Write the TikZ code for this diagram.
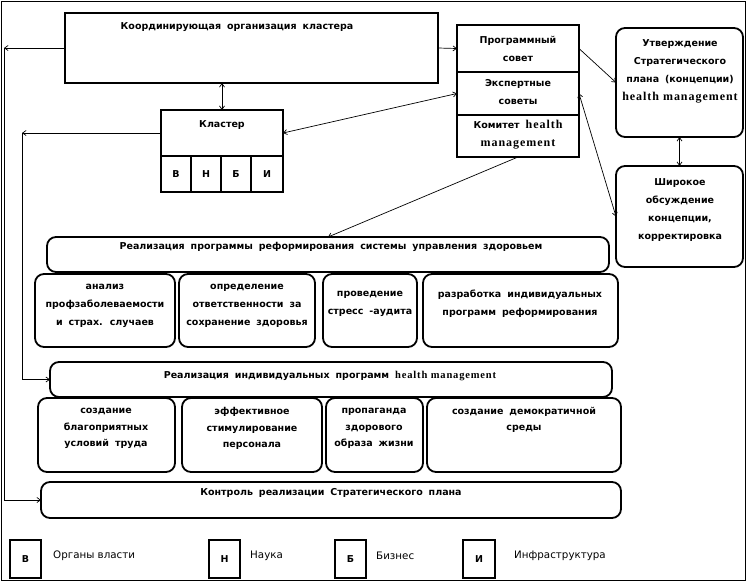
\documentclass[tikz,border=0pt]{standalone}
\usepackage{fontspec}
\setmainfont[WordSpace=1.8]{DejaVu Sans}
\newfontfamily\lgf{DejaVu Sans}
\newfontfamily\hm[LetterSpace=8]{Liberation Serif}
\newcommand\hmb[1]{{\hm\bfseries\fontsize{12}{18}\selectfont #1}}
\newcommand\hms[1]{{\hm\bfseries\fontsize{10.5}{18}\selectfont #1}}
\usetikzlibrary{arrows.meta}
\tikzset{
  sq/.style={draw, line width=1.3pt, inner sep=0pt, outer sep=0pt},
  rnd/.style={draw, line width=1.8pt, rounded corners=9pt, inner sep=0pt, outer sep=0pt},
  conn/.style={line width=0.7pt, -{Straight Barb[length=3.5pt,width=5pt]}},
  conn2/.style={line width=0.7pt, {Straight Barb[length=3.5pt,width=5pt]}-{Straight Barb[length=3.5pt,width=5pt]}},
  txt/.style={font=\bfseries\fontsize{9.5}{18}\selectfont, inner sep=0pt, align=center},
  txts/.style={font=\bfseries\fontsize{9.5}{16.5}\selectfont, inner sep=0pt, align=center},
  ltxt/.style={font=\lgf\fontsize{10.3}{12}\selectfont, inner sep=0pt, anchor=west},
}
\newcommand\bx[6]{\node[#2, anchor=north west, minimum width={(#5-#3)*1pt}, minimum height={(#6-#4)*1pt}] (#1) at (#3,#4) {};}
\begin{document}
\begin{tikzpicture}[x=1pt,y=-1pt]
\useasboundingbox (0,0) rectangle (747,582);
\draw[line width=1pt] (1,1) rectangle (745,580);
% boxes
\bx{coord}{sq}{65}{13}{438}{83}
\bx{prog}{sq}{457}{25}{579}{72}
\bx{exp}{sq}{457}{72}{579}{115}
\bx{kom}{sq}{457}{115}{579}{157}
\bx{utv}{rnd}{616}{28}{743}{137}
\bx{shir}{rnd}{616}{166}{743}{267}
\bx{klaster}{sq}{161}{110}{283}{156}
\bx{cV}{sq}{161}{156}{191}{192}
\bx{cN}{sq}{191}{156}{221}{192}
\bx{cB}{sq}{221}{156}{251}{192}
\bx{cI}{sq}{251}{156}{283}{192}
\bx{realprog}{rnd}{47}{237}{609}{272}
\bx{an}{rnd}{35}{274}{175}{347}
\bx{opr}{rnd}{179}{274}{315}{347}
\bx{str}{rnd}{323}{274}{417}{347}
\bx{raz}{rnd}{423}{274}{618}{347}
\bx{realind}{rnd}{50}{362}{612}{397}
\bx{sb}{rnd}{38}{398}{175}{472}
\bx{ef}{rnd}{182}{398}{322}{472}
\bx{pr}{rnd}{326}{398}{423}{472}
\bx{sd}{rnd}{427}{398}{621}{472}
\bx{kontr}{rnd}{41}{482}{621}{518}
\bx{lV}{sq}{10}{540}{41}{578}
\bx{lN}{sq}{209}{540}{240}{578}
\bx{lB}{sq}{335}{540}{366}{578}
\bx{lI}{sq}{463}{540}{495}{578}
% texts
\node[txt] (tCoord) at (237,27) {Координирующая организация кластера};
\node[txt] (tProg) at (518,49) {Программный\\совет};
\node[txt] (tExp) at (518,92.5) {Экспертные\\советы};
\node[txt] (tKom) at (518,135) {Комитет \hmb{health}\\\hmb{management}};
\node[txt] (tUtv) at (680,71.5) {Утверждение\\Стратегического\\плана (концепции)\\\hmb{health management}};
\node[txt] (tShir) at (680,210) {Широкое\\обсуждение\\концепции,\\корректировка};
\node[txt] (tKl) at (222,125) {Кластер};
\node[txt] at (cV) {В};
\node[txt] at (cN) {Н};
\node[txt] at (cB) {Б};
\node[txt] at (cI) {И};
\node[txt] (tRP) at (331,247) {Реализация программы реформирования системы управления здоровьем};
\node[txt] (tAn) at (105,306) {анализ\\профзаболеваемости\\и страх. случаев};
\node[txt] (tOpr) at (247,306) {определение\\ответственности за\\сохранение здоровья};
\node[txt] (tStr) at (370,303.5) {проведение\\стресс -аудита};
\node[txt] (tRaz) at (520,303.5) {разработка индивидуальных\\программ реформирования};
\node[txt] (tRI) at (330,376) {Реализация индивидуальных программ \hms{health management}};
\node[txts] (tSb) at (106,428.5) {создание\\благоприятных\\условий труда};
\node[txts] (tEf) at (252,428.5) {эффективное\\стимулирование\\персонала};
\node[txts] (tPr) at (374,428.5) {пропаганда\\здорового\\образа жизни};
\node[txts] (tSd) at (524,420) {создание демократичной\\среды};
\node[txt] (tK) at (331,493) {Контроль реализации Стратегического плана};
\node[txt] at (lV) {В};
\node[txt] at (lN) {Н};
\node[txt] at (lB) {Б};
\node[txt] at (lI) {И};
\node[ltxt] (lgV) at (53,556) {Органы власти};
\node[ltxt] (lgN) at (250,556) {Наука};
\node[ltxt] (lgB) at (376,556) {Бизнес};
\node[ltxt] (lgI) at (514,556) {Инфраструктура};
% connectors
\coordinate (lftTop) at (4,48);
\coordinate (lftIn) at (22,133);
\coordinate (rpIn) at (328,237);
\draw[conn] (coord.west) -- (lftTop);
\draw[conn] (lftTop) |- (kontr.west);
\draw[conn] (klaster.west) -- (lftIn);
\draw[conn] (lftIn) |- (realind.west);
\draw[conn2] (coord.south -| klaster.north) -- (klaster.north);
\draw[conn] (coord.east) -- (prog.west);
\draw[conn2] (exp.west) -- (klaster.east);
\draw[conn] (prog.east) -- (utv.west);
\draw[conn2] (utv.south) -- (shir.north);
\draw[conn2] (exp.east) -- (shir.west);
\draw[conn] (kom.south) -- (rpIn);
\end{tikzpicture}
\end{document}
